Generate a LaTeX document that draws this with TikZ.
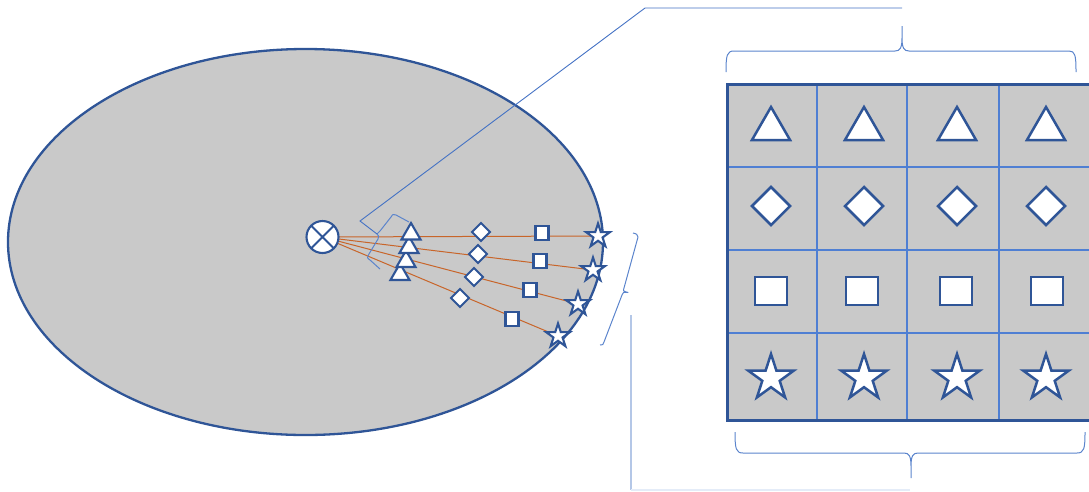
\documentclass[tikz,border=0pt]{standalone}
\usetikzlibrary{shapes.geometric}
\definecolor{dkblue}{HTML}{2F5597}
\definecolor{lnblue}{HTML}{4472C4}
\definecolor{grblue}{HTML}{4F7FD3}
\definecolor{brblue}{HTML}{5B84CC}
\definecolor{paleblue}{HTML}{B4C7E7}
\definecolor{faintblue}{HTML}{E4ECF8}
\definecolor{fillgray}{HTML}{C9C9C9}
\definecolor{rayorange}{HTML}{C8652A}
\pgfdeclarelayer{bg}
\pgfdeclarelayer{mid}
\pgfsetlayers{bg,mid,main}
\begin{document}
\begin{tikzpicture}[x=1pt,y=-1pt,
  shp/.style={draw=dkblue, fill=white, line width=2.1pt, inner sep=0pt, outer sep=0pt},
  tri/.style={shp, regular polygon, regular polygon sides=3},
  dia/.style={shp, diamond, aspect=1},
  sq/.style={shp, rectangle},
  st/.style={shp, star, star points=5, star point ratio=2.618},
  ray/.style={draw=rayorange, line width=1pt},
  thinblue/.style={draw=lnblue, line width=0.9pt},
  bracestyle/.style={draw=brblue, line width=1pt, line join=round},
  gridline/.style={draw=grblue, line width=1.4pt}]
\useasboundingbox (0,0) rectangle (1089,491);

% big ellipse
\begin{pgfonlayer}{bg}
\node[ellipse, draw=dkblue, fill=fillgray, line width=2.3pt, inner sep=0pt,
      minimum width=595, minimum height=386] (E) at (305.5,242) {};
\end{pgfonlayer}

% source
\node[shp, circle, minimum size=32] (c) at (322.5,237) {};
\draw[dkblue, line width=2.1pt] (c.45) -- (c.225) (c.135) -- (c.315);

% small triangles (bottom first)
\node[tri, minimum size=22] (t4) at (400,274.5) {};
\node[tri, minimum size=22] (t3) at (406,261.5) {};
\node[tri, minimum size=22] (t2) at (409,247.5) {};
\node[tri, minimum size=22] (t1) at (411,234) {};
% small diamonds
\node[dia, minimum width=18, minimum height=18] (d1) at (481,232) {};
\node[dia, minimum width=18, minimum height=18] (d2) at (478,254) {};
\node[dia, minimum width=18, minimum height=18] (d3) at (474,277) {};
\node[dia, minimum width=18, minimum height=18] (d4) at (460,298) {};
% small squares
\node[sq, minimum width=13, minimum height=14] (q1) at (542,233) {};
\node[sq, minimum width=13, minimum height=14] (q2) at (540,261) {};
\node[sq, minimum width=13, minimum height=14] (q3) at (530,290) {};
\node[sq, minimum width=13, minimum height=14] (q4) at (512,319) {};
% small stars
\node[st, minimum size=25] (s1) at (598,236) {};
\node[st, minimum size=25] (s2) at (593,270) {};
\node[st, minimum size=25] (s3) at (578,304) {};
\node[st, minimum size=25] (s4) at (558,336) {};

% rays
\begin{pgfonlayer}{mid}
\draw[ray] (c.center) -- (s1.center);
\draw[ray] (c.center) -- (s2.center);
\draw[ray] (c.center) -- (s3.center);
\draw[ray] (c.center) -- (s4.center);
\end{pgfonlayer}

% brace around triangles and leader to top
\coordinate (lb) at (377,234);
\coordinate (k1) at (360,221);
\coordinate (k2) at (645,8);
\coordinate (k3) at (902,8);
\draw[bracestyle] (409,222) -- (396,215) .. controls (393,214) .. (391,217)
   -- (380,231) .. controls (379,233) .. (lb) .. controls (379,236) .. (378,239)
   -- (369,254) .. controls (367,258) .. (370,260) -- (380,269);
\draw[thinblue] (lb) -- (k1) -- (k2) -- (k3);

% brace at stars and leader to bottom
\coordinate (rb) at (628,292.5);
\coordinate (m1) at (631,315);
\coordinate (m2) at (631,490);
\coordinate (m3) at (910,490);
\draw[bracestyle] (633,233) .. controls (637,234) .. (638,237) -- (624,288)
   .. controls (623,291) .. (rb) .. controls (623,292) .. (622,295)
   -- (604,342) .. controls (603,345) .. (600,345);
\draw[draw=paleblue, line width=1.6pt] (m1) -- (m2);
\draw[draw=faintblue, line width=1.2pt] (m2) -- (m3);

% top brace
\draw[bracestyle] (726,72) .. controls (726,55) and (727,51) .. (734,51) -- (895,51)
   .. controls (900,51) and (902,48) .. (902,38) -- (902,26)
   (902,38) .. controls (902,48) and (904,51) .. (909,51) -- (1069,51)
   .. controls (1075,51) and (1076,55) .. (1076,72);
% bottom brace
\draw[bracestyle] (735,432) .. controls (735,449) and (736,453) .. (743,453) -- (904,453)
   .. controls (909,453) and (911,456) .. (911,466) -- (911,478)
   (911,466) .. controls (911,456) and (913,453) .. (918,453) -- (1077,453)
   .. controls (1084,453) and (1085,449) .. (1085,432);

% grid
\fill[fillgray] (727,84) rectangle (1089,420);
\draw[gridline] (817,84) -- (817,420) (907,84) -- (907,420) (999,84) -- (999,420)
   (727,167) -- (1089,167) (727,250) -- (1089,250) (727,333) -- (1089,333);
\draw[dkblue, line width=3pt] (1089,84) -- (727,84) -- (727,420) -- (1089,420);

% grid shapes
\foreach \x [count=\i] in {771,864,957,1046} {
  \node[tri, line width=2.5pt, minimum size=44] (T\i) at (\x,129) {};
  \node[dia, line width=2.5pt, minimum width=38, minimum height=38] (D\i) at (\x,206) {};
  \node[st, line width=2.5pt, minimum size=48] (S\i) at (\x,378) {};
}
\foreach \x [count=\i] in {771,862,956,1047} {
  \node[sq, line width=2.5pt, minimum width=32, minimum height=28] (Q\i) at (\x,291) {};
}
\end{tikzpicture}
\end{document}
